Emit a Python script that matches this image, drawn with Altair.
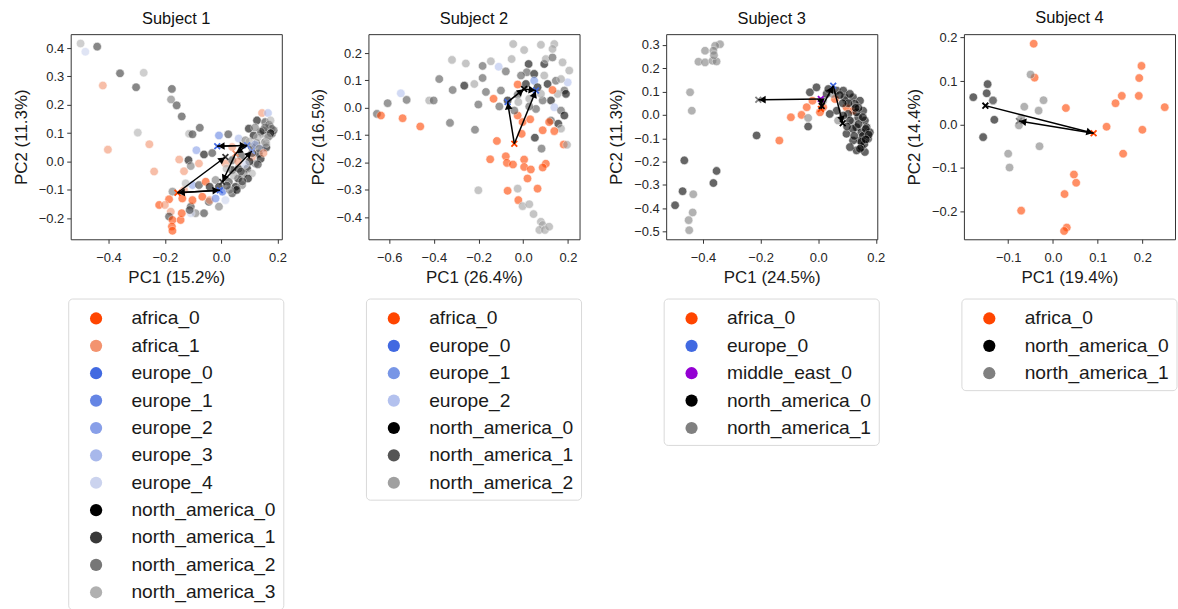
import math
import altair as alt
import pandas as pd

FONT = "Liberation Sans"

SUBJECTS = ["Subject 1", "Subject 2", "Subject 3", "Subject 4"]
X_TITLES = ["PC1 (15.2%)", "PC1 (26.4%)", "PC1 (24.5%)", "PC1 (19.4%)"]
Y_TITLES = ["PC2 (11.3%)", "PC2 (16.5%)", "PC2 (11.3%)", "PC2 (14.4%)"]
X_DOMAINS = [[-0.534, 0.215], [-0.693, 0.252], [-0.528, 0.205], [-0.199, 0.273]]
Y_DOMAINS = [[-0.274, 0.449], [-0.48, 0.269], [-0.533, 0.346], [-0.264, 0.208]]
X_TICKS = [[-0.4, -0.2, 0.0, 0.2], [-0.6, -0.4, -0.2, 0.0, 0.2], [-0.4, -0.2, 0.0, 0.2], [-0.1, 0.0, 0.1, 0.2]]
Y_TICKS = [[-0.2, -0.1, 0.0, 0.1, 0.2, 0.3, 0.4], [-0.4, -0.3, -0.2, -0.1, 0.0, 0.1, 0.2],
           [-0.5, -0.4, -0.3, -0.2, -0.1, 0.0, 0.1, 0.2, 0.3], [-0.2, -0.1, 0.0, 0.1, 0.2]]
TITLE_OFFSETS = [7, 7, 7, 5]

# ---------------- Subject 1 ----------------
S1_GROUPS = ["africa_0", "africa_1", "europe_0", "europe_1", "europe_2", "europe_3", "europe_4",
             "north_america_0", "north_america_1", "north_america_2", "north_america_3"]
S1_COLORS = ["#FF4500", "#F3936F", "#4169E1", "#6585E4", "#889FE8", "#A8B8EB", "#CBD3EE",
             "#000000", "#383838", "#777777", "#B0B0B0"]
S1_X = [-0.499, -0.482, -0.44, -0.42, -0.359, -0.275, -0.302, -0.175, -0.178, -0.158, -0.14, -0.296,
        -0.076, -0.402, -0.255, -0.238, -0.149, -0.132, -0.114, -0.102, -0.116, -0.108, -0.088, -0.061,
        -0.032, -0.008, 0.025, 0.062, 0.098, 0.127, 0.145, 0.166, 0.156, 0.174, 0.18, 0.145, 0.115, 0.086,
        0.109, 0.145, 0.156, 0.133, 0.121, 0.092, 0.109, 0.08, 0.039, 0.015, 0.039, -0.02, -0.008, 0.027,
        0.051, 0.074, 0.039, 0.015, -0.008, -0.044, -0.061, -0.091, -0.108, -0.102, -0.079, -0.055, -0.041,
        -0.067, -0.041, -0.102, -0.138, -0.132, -0.173, -0.185, -0.22, -0.2, -0.179, -0.185, -0.173, -0.175,
        -0.173, -0.144, -0.14, -0.108, -0.112, -0.079, -0.126, 0.019, 0.062, 0.039, 0.109, 0.168, 0.186,
        -0.02, 0.004, 0.14, 0.16, 0.125, 0.07, 0.15, 0.1, 0.17, 0.06,
        0.17, 0.18, 0.175, 0.165, 0.155, 0.14, 0.13, 0.12, 0.135, 0.15, 0.16, 0.11, 0.1, 0.085, 0.07, 0.095,
        0.075, 0.055, 0.03, 0.02, 0.045, 0.06, 0.13, 0.12, 0.175]
S1_Y = [0.416, 0.387, 0.405, 0.268, 0.311, 0.313, 0.262, 0.256, 0.219, 0.198, 0.159, 0.102, 0.119, 0.042,
        0.061, -0.035, 0.007, -0.034, 0.098, 0.096, 0.005, -0.016, 0.04, 0.025, 0.03, 0.092, 0.096, 0.081,
        0.116, 0.145, 0.171, 0.171, 0.139, 0.122, 0.098, 0.098, 0.092, 0.075, 0.051, 0.046, 0.069, 0.028,
        -0.007, -0.025, -0.042, -0.042, -0.03, -0.007, 0.005, -0.065, -0.089, -0.071, -0.089, -0.083, -0.112,
        -0.136, -0.159, -0.142, -0.182, -0.182, -0.159, -0.083, -0.083, -0.071, -0.089, -0.124, -0.136,
        -0.136, -0.13, -0.101, -0.106, -0.133, -0.153, -0.153, -0.177, -0.194, -0.206, -0.229, -0.244,
        -0.206, -0.182, -0.182, -0.171, -0.007, -0.077, -0.025, -0.025, 0.051, 0.016, 0.088, 0.11, -0.13,
        -0.106, 0.01, 0.05, 0.065, 0.02, 0.11, 0.07, 0.09, -0.06,
        0.13, 0.115, 0.1, 0.085, 0.12, 0.105, 0.085, 0.06, 0.045, 0.03, 0.065, 0.03, 0.0, -0.01, -0.035,
        -0.06, -0.07, -0.1, -0.1, -0.085, -0.05, 0.0, -0.01, 0.12, 0.145]
S1_G = ["north_america_3", "europe_4", "north_america_1", "africa_1", "north_america_1", "north_america_3",
        "north_america_1", "north_america_1", "north_america_2", "north_america_1", "north_america_1",
        "north_america_3", "north_america_1", "africa_1", "africa_1", "africa_1", "africa_1", "africa_1",
        "north_america_3", "north_america_1", "north_america_0", "north_america_2", "europe_2",
        "north_america_0", "north_america_1", "europe_1", "north_america_1", "europe_3", "north_america_0",
        "north_america_0", "africa_1", "europe_3", "north_america_1", "north_america_0", "north_america_1",
        "north_america_2", "north_america_0", "north_america_2", "north_america_0", "europe_2",
        "north_america_1", "north_america_0", "north_america_2", "north_america_0", "north_america_3",
        "north_america_2", "north_america_0", "africa_1", "north_america_1", "north_america_2",
        "north_america_0", "north_america_1", "north_america_0", "north_america_2", "north_america_1",
        "europe_4", "north_america_2", "north_america_1", "north_america_1", "north_america_2",
        "north_america_1", "europe_2", "north_america_1", "africa_0", "north_america_0", "africa_0",
        "africa_1", "africa_0", "africa_0", "africa_1", "north_america_2", "africa_0", "africa_0",
        "africa_1", "africa_1", "north_america_1", "africa_0", "africa_0", "africa_0", "africa_0",
        "africa_0", "europe_4", "north_america_1", "africa_1", "north_america_3", "north_america_3",
        "north_america_0", "africa_1", "africa_1", "north_america_0", "north_america_1", "europe_1",
        "europe_0", "north_america_0", "north_america_0", "north_america_1", "north_america_1",
        "north_america_0", "north_america_3", "north_america_2", "north_america_0",
        "north_america_1", "north_america_2", "north_america_0", "north_america_3", "north_america_2",
        "north_america_1", "north_america_3", "europe_3", "north_america_2", "africa_1", "north_america_3",
        "north_america_1", "north_america_0", "europe_4", "north_america_1", "north_america_0",
        "north_america_1", "north_america_0", "north_america_2", "north_america_1", "north_america_3",
        "africa_1", "north_america_1", "north_america_2", "north_america_3"]
S1_MARK_X = [-0.155, -0.005, 0.015, -0.014, 0.092, 0.051, 0.004, 0.109]
S1_MARK_Y = [-0.110, -0.101, 0.016, 0.054, 0.057, 0.028, -0.072, 0.037]
S1_MARK_G = ["africa_0", "europe_0", "north_america_1", "europe_0", "europe_1", "africa_1",
             "north_america_1", "europe_2"]
S1_ARROW_FROM = [1, 0, 0, 3, 4, 4, 5, 6]
S1_ARROW_TO = [0, 1, 2, 4, 3, 5, 6, 7]

# ---------------- Subject 2 ----------------
S2_GROUPS = ["africa_0", "europe_0", "europe_1", "europe_2",
             "north_america_0", "north_america_1", "north_america_2"]
S2_COLORS = ["#FF4500", "#4169E1", "#7896E6", "#B3C1EE", "#000000", "#555555", "#A0A0A0"]
S2_X = [-0.655, -0.637, -0.607, -0.548, -0.522, -0.54, -0.461, -0.421, -0.401, -0.376, -0.328, -0.316,
        -0.319, -0.264, -0.257, -0.219, -0.216, -0.201, -0.182, -0.182, -0.167, -0.145, -0.133, -0.118,
        -0.11, -0.078, -0.1, -0.107, -0.07, -0.045, -0.052, -0.025, -0.025, -0.022, -0.025, -0.003, -0.007,
        0.004, 0.024, 0.016, 0.049, 0.079, 0.094, 0.101, 0.131, 0.139, 0.131, 0.176, 0.206, 0.199, 0.094,
        0.109, 0.146, 0.169, 0.184, 0.191, 0.154, 0.124, 0.087, 0.079, 0.057, 0.139, 0.169, 0.184, 0.124,
        0.157, 0.169, 0.131, 0.116, 0.139, 0.087, 0.052, 0.031, 0.181, 0.196, 0.082, -0.078, -0.148, -0.073,
        -0.046, 0.004, 0.004, 0.034, 0.101, 0.087, 0.019, 0.064, -0.07, -0.201, -0.025, -0.022, -0.003,
        0.027, 0.046, 0.079, 0.087, 0.072, 0.097, 0.116, -0.01, 0.012, 0.049, 0.064, 0.027, -0.04, 0.027]
S2_Y = [-0.022, -0.028, 0.017, 0.053, 0.029, -0.038, -0.068, 0.027, 0.027, 0.105, -0.055, 0.065, 0.175,
        0.081, 0.162, 0.087, -0.08, 0.012, 0.153, 0.109, 0.058, 0.17, 0.033, -0.121, 0.15, 0.133, 0.063,
        0.005, 0.027, 0.233, 0.178, 0.085, 0.048, 0.021, -0.028, -0.052, -0.095, 0.211, 0.16, 0.13, 0.124,
        0.23, 0.16, 0.178, 0.184, 0.233, 0.215, 0.166, 0.136, 0.093, 0.118, 0.087, 0.099, 0.105, 0.063,
        0.051, 0.051, 0.027, 0.027, 0.051, -0.004, 0.002, -0.01, -0.028, -0.046, -0.058, -0.076, 0.065,
        -0.052, -0.085, -0.082, -0.109, -0.042, -0.134, -0.135, -0.149, -0.177, -0.188, -0.201, -0.207,
        -0.189, -0.216, -0.225, -0.204, -0.218, -0.258, -0.295, -0.303, -0.301, -0.295, -0.337, -0.359,
        -0.352, -0.388, -0.416, -0.428, -0.446, -0.446, -0.434, 0.118, 0.087, 0.099, 0.075, 0.033, -0.01,
        0.005]
S2_G = ["north_america_1", "africa_0", "north_america_1", "europe_2", "north_america_1", "africa_0",
        "africa_0", "north_america_2", "north_america_1", "north_america_1", "north_america_1",
        "north_america_1", "north_america_2", "north_america_0", "north_america_2", "north_america_2",
        "north_america_1", "north_america_1", "north_america_1", "north_america_1", "north_america_1",
        "north_america_2", "africa_0", "africa_0", "europe_2", "north_america_1", "north_america_1",
        "north_america_1", "north_america_0", "north_america_2", "north_america_2", "africa_0",
        "north_america_1", "north_america_2", "africa_0", "africa_0", "africa_0", "north_america_2",
        "north_america_0", "north_america_1", "north_america_0", "north_america_2", "north_america_0",
        "north_america_2", "north_america_1", "north_america_2", "north_america_2", "north_america_2",
        "north_america_2", "europe_2", "north_america_2", "north_america_0", "north_america_1",
        "north_america_2", "north_america_1", "north_america_0", "north_america_2", "north_america_0",
        "north_america_1", "north_america_2", "north_america_1", "europe_2", "north_america_1",
        "north_america_0", "north_america_1", "north_america_0", "north_america_2", "africa_0", "africa_0",
        "africa_0", "africa_0", "north_america_0", "africa_0", "africa_0", "north_america_2",
        "north_america_1", "africa_0", "africa_0", "africa_0", "africa_0", "africa_0", "africa_0",
        "africa_0", "africa_0", "africa_0", "africa_0", "africa_0", "africa_0", "north_america_2",
        "north_america_2", "africa_0", "north_america_2", "north_america_2", "north_america_2",
        "north_america_2", "north_america_2", "north_america_2", "north_america_2", "north_america_2",
        "north_america_1", "north_america_0", "europe_1", "north_america_0", "north_america_2",
        "north_america_1", "north_america_1"]
S2_MARK_X = [-0.040, -0.070, 0.004, 0.057]
S2_MARK_Y = [-0.131, 0.021, 0.069, 0.063]
S2_MARK_G = ["africa_0", "europe_0", "north_america_0", "europe_0"]
S2_ARROW_FROM = [0, 1, 2, 0]
S2_ARROW_TO = [1, 2, 3, 3]

# ---------------- Subject 3 ----------------
S3_GROUPS = ["africa_0", "europe_0", "middle_east_0", "north_america_0", "north_america_1"]
S3_COLORS = ["#FF4500", "#4169E1", "#9400D3", "#000000", "#808080"]
S3_X = [-0.341, -0.358, -0.393, -0.364, -0.416, -0.393, -0.367, -0.353, -0.362, -0.445, -0.439,
        -0.214, -0.465, -0.353, -0.364, -0.471, -0.434, -0.497, -0.436, -0.45, -0.448,
        -0.135, -0.095, -0.058, -0.04, -0.02, 0.006, 0.017, 0.058, 0.098, 0.121,
        -0.035, 0.017, 0.098, 0.069, 0.05, 0.12,
        -0.035, -0.029, -0.006, 0.029, 0.064, 0.087, 0.092, 0.104, 0.121, 0.145, 0.127, 0.156, 0.139,
        0.162, 0.168, 0.133, 0.11, 0.087, 0.15, 0.173, 0.145, 0.133, 0.162, 0.121, 0.098, 0.11, 0.15,
        0.179, 0.064, 0.04, 0.035, 0.133, 0.155, 0.12, 0.14, 0.16, 0.105, 0.075,
        0.14, 0.165, 0.175, 0.15, 0.125, 0.1, 0.085, 0.11, 0.13, 0.155, 0.145, 0.165]
S3_Y = [0.303, 0.296, 0.275, 0.275, 0.228, 0.225, 0.232, 0.229, 0.256, 0.097, 0.018,
        -0.088, -0.195, -0.24, -0.292, -0.327, -0.34, -0.387, -0.418, -0.451, -0.494,
        -0.11, -0.01, 0.0, 0.033, 0.061, 0.011, 0.033, 0.068, 0.033, 0.018,
        -0.013, 0.061, 0.061, -0.024, 0.09, -0.03,
        -0.05, 0.097, 0.118, 0.09, 0.104, 0.104, 0.075, 0.004, 0.075, 0.061, 0.047, 0.018, -0.01,
        -0.024, -0.053, -0.053, -0.024, -0.003, -0.074, -0.102, -0.11, -0.152, -0.159, -0.11, -0.081,
        -0.138, -0.138, -0.074, 0.018, 0.004, 0.111, 0.011, -0.09, -0.06, 0.03, -0.125, 0.05, 0.085,
        -0.04, -0.06, -0.085, -0.115, -0.09, -0.05, 0.05, 0.09, 0.03, -0.01, -0.145, -0.105]
S3_G = (["north_america_1"] * 11
        + ["north_america_0"] * 5 + ["north_america_1", "north_america_0"] + ["north_america_1"] * 3
        + ["africa_0"] * 10
        + ["north_america_1"] * 6
        + ["north_america_0"] * 50)
S3_MARK_X = [-0.208, 0.009, 0.052, 0.009, 0.085, 0.012]
S3_MARK_Y = [0.065, 0.068, 0.125, 0.025, -0.036, 0.038]
S3_MARK_G = ["north_america_1", "middle_east_0", "europe_0", "africa_0", "north_america_0", "north_america_0"]
S3_ARROW_FROM = [1, 1, 3, 2]
S3_ARROW_TO = [0, 5, 2, 4]

# ---------------- Subject 4 ----------------
S4_GROUPS = ["africa_0", "north_america_0", "north_america_1"]
S4_COLORS = ["#FF4500", "#000000", "#808080"]
S4_X = [-0.043, -0.041, 0.029, 0.12, 0.14, 0.154, 0.192, 0.193, 0.198, 0.25, 0.2, 0.157, 0.047, 0.052,
        0.026, -0.071, 0.031, 0.025,
        -0.178, -0.146, -0.148, -0.156, -0.131, -0.134,
        -0.134, -0.05, -0.064, -0.021, -0.032, -0.076, -0.03, -0.1, -0.097, -0.071]
S4_Y = [0.186, 0.108, 0.038, -0.005, 0.049, 0.066, 0.066, 0.107, 0.135, 0.04, -0.012, -0.067, -0.115,
        -0.134, -0.16, -0.198, -0.237, -0.245,
        0.063, 0.093, 0.072, -0.029, 0.011, 0.055,
        0.056, 0.115, 0.041, 0.056, 0.032, -0.002, -0.05, -0.067, -0.099, 0.015]
S4_G = ["africa_0"] * 18 + ["north_america_0"] * 6 + ["north_america_1"] * 10
S4_MARK_X = [-0.151, 0.091, -0.076]
S4_MARK_Y = [0.0435, -0.020, 0.008]
S4_MARK_G = ["north_america_0", "africa_0", "north_america_1"]
S4_ARROW_FROM = [0, 1]
S4_ARROW_TO = [1, 2]

PLOT_W = 212
PLOT_H = 206
LEGEND_TOP = 266      # legend box top, measured from the plot-area top
ROW_STEP = 27.5
ROW_PAD = 18.5

PANELS = [
    (S1_GROUPS, S1_COLORS, S1_X, S1_Y, S1_G, S1_MARK_X, S1_MARK_Y, S1_MARK_G, S1_ARROW_FROM, S1_ARROW_TO),
    (S2_GROUPS, S2_COLORS, S2_X, S2_Y, S2_G, S2_MARK_X, S2_MARK_Y, S2_MARK_G, S2_ARROW_FROM, S2_ARROW_TO),
    (S3_GROUPS, S3_COLORS, S3_X, S3_Y, S3_G, S3_MARK_X, S3_MARK_Y, S3_MARK_G, S3_ARROW_FROM, S3_ARROW_TO),
    (S4_GROUPS, S4_COLORS, S4_X, S4_Y, S4_G, S4_MARK_X, S4_MARK_Y, S4_MARK_G, S4_ARROW_FROM, S4_ARROW_TO),
]


def arrow_table(mx, my, frm, to, xdom, ydom):
    sx = PLOT_W / (xdom[1] - xdom[0])
    sy = PLOT_H / (ydom[1] - ydom[0])
    rows = []
    for a, b in zip(frm, to):
        x1, y1, x2, y2 = mx[a], my[a], mx[b], my[b]
        dxp = (x2 - x1) * sx
        dyp = -(y2 - y1) * sy
        length = math.hypot(dxp, dyp) or 1.0
        ux, uy = dxp / length, dyp / length
        back = 4.0
        rows.append(dict(x1=x1, y1=y1, x2=x2, y2=y2,
                         hx=x2 - ux * back / sx, hy=y2 + uy * back / sy,
                         angle=math.degrees(math.atan2(dxp, -dyp)) % 360))
    return pd.DataFrame(rows)


def make_panel(i):
    groups, colors, xs, ys, gs, mx, my, mg, frm, to = PANELS[i]
    xdom, ydom = X_DOMAINS[i], Y_DOMAINS[i]
    cscale = alt.Scale(domain=groups, range=colors)
    xaxis = alt.Axis(values=X_TICKS[i], format=".1f", title=X_TITLES[i], labelOverlap=False, labelFlush=False)
    yaxis = alt.Axis(values=Y_TICKS[i], format=".1f", title=Y_TITLES[i], labelOverlap=False, labelFlush=False)
    xscale = alt.Scale(domain=xdom, nice=False, zero=False)
    yscale = alt.Scale(domain=ydom, nice=False, zero=False)

    def X(field):
        return alt.X(f"{field}:Q", scale=xscale, axis=xaxis)

    def Y(field):
        return alt.Y(f"{field}:Q", scale=yscale, axis=yaxis)

    pts = pd.DataFrame({"x": xs, "y": ys, "group": gs})
    scatter = alt.Chart(pts).mark_circle(size=74, opacity=0.6, stroke="white", strokeWidth=0.6).encode(
        x=X("x"), y=Y("y"), color=alt.Color("group:N", scale=cscale, legend=None))

    marks = pd.DataFrame({"x": mx, "y": my, "group": mg})
    xmarks = alt.Chart(marks).mark_point(shape="M-1,-1L1,1M-1,1L1,-1", size=34, filled=False,
                                         strokeWidth=1.8, opacity=1).encode(
        x=X("x"), y=Y("y"), color=alt.Color("group:N", scale=cscale, legend=None))

    arr = arrow_table(mx, my, frm, to, xdom, ydom)
    rules = alt.Chart(arr).mark_rule(color="black", strokeWidth=1.5).encode(
        x=X("x1"), y=Y("y1"), x2="x2:Q", y2="y2:Q")
    heads = alt.Chart(arr).mark_point(shape="triangle-up", filled=True, color="black", size=60,
                                      opacity=1).encode(
        x=X("hx"), y=Y("hy"), angle=alt.Angle("angle:Q", scale=None))

    plot = alt.layer(scatter, xmarks, rules, heads)

    n = len(groups)
    leg_h = ROW_STEP * (n - 1) + 2 * ROW_PAD
    pad = ROW_PAD / ROW_STEP
    leg_df = pd.DataFrame({"group": groups, "idx": list(range(n))})
    lyscale = alt.Scale(domain=[-pad, n - 1 + pad], range=[LEGEND_TOP + 1, LEGEND_TOP + leg_h + 1],
                        nice=False, zero=False)
    frame = alt.Chart(pd.DataFrame({"k": [0]})).mark_rect(
        fill="white", stroke="#d9d9d9", strokeWidth=1, cornerRadius=4).encode(
        x=alt.value(-2), x2=alt.value(PLOT_W + 2),
        y=alt.value(LEGEND_TOP), y2=alt.value(LEGEND_TOP + leg_h))
    dots = alt.Chart(leg_df).mark_circle(size=150, opacity=1).encode(
        x=alt.value(25.5), y=alt.Y("idx:Q", scale=lyscale, axis=None),
        color=alt.Color("group:N", scale=cscale, legend=None))
    labels = alt.Chart(leg_df).mark_text(align="left", baseline="middle", fontSize=19.3, font=FONT,
                                         color="#1a1a1a").encode(
        x=alt.value(61), y=alt.Y("idx:Q", scale=lyscale, axis=None), text="group:N")
    legend = alt.layer(frame, dots, labels)

    return alt.layer(plot, legend).resolve_scale(y="independent").properties(
        width=PLOT_W, height=PLOT_H,
        title=alt.TitleParams(SUBJECTS[i], fontSize=16.5, font=FONT, fontWeight="normal",
                              color="#111111", offset=TITLE_OFFSETS[i], frame="group", anchor="middle"))


panels = [make_panel(i) for i in range(4)]
chart = alt.hconcat(*panels, spacing=87, bounds="flush").resolve_scale(
    x="independent", y="independent", color="independent")

chart = chart.properties(
    padding={"left": 11, "top": 8, "right": 0, "bottom": 0},
    background="white",
).configure_view(stroke="#333333", strokeWidth=1).configure_axis(
    domain=False, grid=False, ticks=True, tickColor="#333333", tickSize=4, tickWidth=1,
    labelFont=FONT, labelFontSize=13, labelColor="#262626", labelFlush=False, labelOverlap=False,
    titleFont=FONT, titleFontSize=17, titleFontWeight="normal", titleColor="#1a1a1a",
).configure_axisX(labelPadding=8, titlePadding=5).configure_axisY(labelPadding=3, titlePadding=8)

chart.save("out.html", embed_options={"renderer": "svg", "actions": False})
